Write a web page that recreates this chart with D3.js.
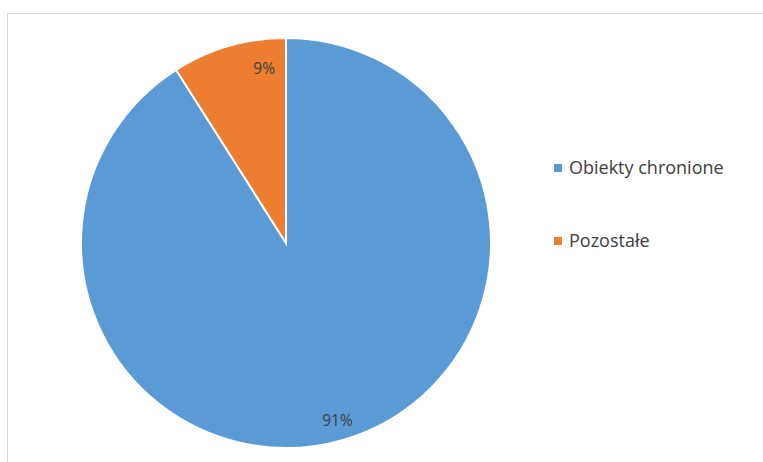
<!DOCTYPE html>
<html>
<head>
<meta charset="utf-8">
<script src="https://cdn.jsdelivr.net/npm/d3@7"></script>
<style>
  body { margin: 0; background: #fff; }
  svg { display: block; font-family: "Open Sans", sans-serif; }
</style>
</head>
<body>
<svg id="graph"></svg>
<script>
const categories = ["Obiekty chronione", "Pozostałe"];
const values = [91, 9];
const colorsList = ["#5b9bd5", "#ed7d31"];

const width = 763;
const height = 462;
const svg = d3.select("#graph").attr("width", width).attr("height", height);

// chart frame
svg.append("rect")
  .attr("x", 7.5).attr("y", 13.5)
  .attr("width", 760).attr("height", 460)
  .attr("fill", "#fff")
  .attr("stroke", "#d9d9d9");

const cx = 286, cy = 243, radius = 205;
const color = d3.scaleOrdinal().domain(categories).range(colorsList);
const pie = d3.pie().sort(null).value((d) => d.value);
const arc = d3.arc().innerRadius(0).outerRadius(radius);

const data = categories.map((c, i) => ({ name: c, value: values[i] }));
const arcs = pie(data);

const g = svg.append("g").attr("transform", `translate(${cx},${cy})`);

g.selectAll("path")
  .data(arcs)
  .join("path")
  .attr("d", arc)
  .attr("fill", (d) => color(d.data.name))
  .attr("stroke", "#fff")
  .attr("stroke-width", 2);

// "best fit" style: narrow slices get their label pushed toward the end edge
const total = d3.sum(values);
function labelPos(d) {
  const narrow = d.endAngle - d.startAngle < 0.6;
  const a = d.startAngle + (d.endAngle - d.startAngle) * (narrow ? 0.78 : 0.5);
  const r = radius * (narrow ? 0.86 : 0.9);
  return [Math.sin(a) * r, -Math.cos(a) * r];
}

g.selectAll("text")
  .data(arcs)
  .join("text")
  .attr("transform", (d) => `translate(${labelPos(d)})`)
  .attr("text-anchor", "middle")
  .attr("dy", "0.35em")
  .attr("font-size", 15.5)
  .attr("fill", "#404040")
  .text((d) => `${Math.round((d.data.value / total) * 100)}%`);

const legend = svg.append("g").attr("transform", "translate(554,0)");
const ly = d3.scalePoint().domain(categories).range([168, 241]);

const item = legend.selectAll("g")
  .data(categories)
  .join("g")
  .attr("transform", (d) => `translate(0,${ly(d)})`);

item.append("rect")
  .attr("x", 0).attr("y", -4)
  .attr("width", 8).attr("height", 8)
  .attr("fill", (d) => color(d));

item.append("text")
  .attr("x", 15)
  .attr("dy", "0.35em")
  .attr("font-size", 18)
  .attr("fill", "#404040")
  .text((d) => d);
</script>
</body>
</html>
